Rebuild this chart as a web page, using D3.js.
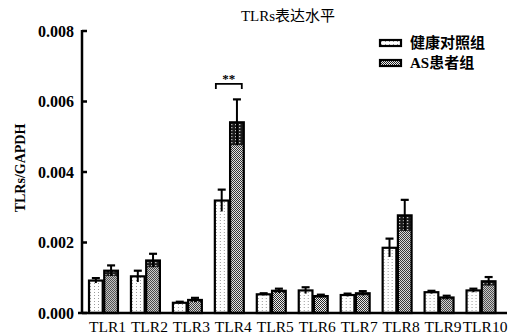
<!DOCTYPE html>
<meta charset="utf-8">
<head>
  <title>TLRs表达水平</title>
  <script src="https://cdn.jsdelivr.net/npm/d3@7"></script>
  <style>
    body { margin: 0; background: #fff; }
    svg { display: block; }
    .tick-y { font-family: "Liberation Serif", serif; font-weight: bold; font-size: 16px; }
    .tick-x { font-family: "Liberation Serif", serif; font-size: 15.5px; }
  </style>
</head>
<body>
<svg></svg>
<script>
// data
var categories = ["TLR1", "TLR2", "TLR3", "TLR4", "TLR5", "TLR6", "TLR7", "TLR8", "TLR9", "TLR10"];
var groups = ["健康对照组", "AS患者组"];
var controlMean = [0.00092, 0.00104, 0.00029, 0.00319, 0.00053, 0.00064, 0.00051, 0.00185, 0.00059, 0.00064];
var controlSD   = [0.00007, 0.00016, 0.00003, 0.00031, 0.00003, 0.00009, 0.00004, 0.00026, 0.00004, 0.00005];
var asMean      = [0.00120, 0.00149, 0.00037, 0.00541, 0.00063, 0.00048, 0.00056, 0.00277, 0.00044, 0.00090];
var asSD        = [0.00015, 0.00019, 0.00006, 0.00065, 0.00006, 0.00004, 0.00006, 0.00044, 0.00005, 0.00012];
var yTicks = [0, 0.002, 0.004, 0.006, 0.008];

var W = 515, H = 336;
var svg = d3.select("svg").attr("width", W).attr("height", H);

var x = d3.scaleBand().domain(categories).range([82.5, 502]).paddingInner(0.31).paddingOuter(0.155);
var xs = d3.scaleBand().domain(groups).range([0, x.bandwidth()]).paddingInner(0.1);
var y = d3.scaleLinear().domain([0, 0.008]).range([313, 31]);

// patterns
var defs = svg.append("defs");
var p1 = defs.append("pattern").attr("id", "pCtl").attr("patternUnits", "userSpaceOnUse")
  .attr("width", 4).attr("height", 3);
p1.append("rect").attr("width", 4).attr("height", 3).attr("fill", "#fff");
p1.append("rect").attr("x", 1).attr("y", 1).attr("width", 1).attr("height", 1).attr("fill", "#999");
var p2 = defs.append("pattern").attr("id", "pAS").attr("patternUnits", "userSpaceOnUse")
  .attr("width", 2).attr("height", 2);
p2.append("rect").attr("width", 2).attr("height", 2).attr("fill", "#f4f4f4");
p2.append("rect").attr("width", 1).attr("height", 1).attr("fill", "#222");
p2.append("rect").attr("x", 1).attr("y", 1).attr("width", 1).attr("height", 1).attr("fill", "#222");
var p3 = defs.append("pattern").attr("id", "pDark").attr("patternUnits", "userSpaceOnUse")
  .attr("width", 4).attr("height", 3);
p3.append("rect").attr("width", 4).attr("height", 3).attr("fill", "#1a1a1a");
p3.append("rect").attr("x", 1).attr("y", 1).attr("width", 1.3).attr("height", 1.2).attr("fill", "#ddd");

var rows = categories.map(function(c, i) {
  return [
    {cat: c, g: groups[0], m: controlMean[i], sd: controlSD[i], fill: "url(#pCtl)"},
    {cat: c, g: groups[1], m: asMean[i], sd: asSD[i], fill: "url(#pAS)"}
  ];
});
var bars = [].concat.apply([], rows);

var gb = svg.append("g").selectAll("g").data(bars).enter().append("g")
  .attr("transform", function(d) { return "translate(" + (x(d.cat) + xs(d.g)) + ",0)"; });
var bw = xs.bandwidth();

gb.append("rect")
  .attr("x", 0).attr("width", bw)
  .attr("y", function(d) { return y(d.m); })
  .attr("height", function(d) { return y(0) - y(d.m); })
  .attr("fill", function(d) { return d.fill; });

// darker band for the lower whisker inside the AS bars
gb.filter(function(d) { return d.g === groups[1]; }).append("rect")
  .attr("x", 0).attr("width", bw)
  .attr("y", function(d) { return y(d.m); })
  .attr("height", function(d) { return y(d.m - d.sd) - y(d.m); })
  .attr("fill", "url(#pDark)");

gb.append("line")
  .attr("x1", bw / 2).attr("x2", bw / 2)
  .attr("y1", function(d) { return y(d.m - d.sd); })
  .attr("y2", function(d) { return y(d.m + d.sd); })
  .attr("stroke", "#000").attr("stroke-width", 2);
gb.append("line")
  .attr("x1", bw / 2 - 4).attr("x2", bw / 2 + 4)
  .attr("y1", function(d) { return y(d.m + d.sd); })
  .attr("y2", function(d) { return y(d.m + d.sd); })
  .attr("stroke", "#000").attr("stroke-width", 2.2);

gb.append("rect")
  .attr("x", 0).attr("width", bw)
  .attr("y", function(d) { return y(d.m); })
  .attr("height", function(d) { return y(0) - y(d.m); })
  .attr("fill", "none").attr("stroke", "#000").attr("stroke-width", 2.2);

// axes
var ax = svg.append("g");
ax.append("line").attr("x1", 82).attr("x2", 82).attr("y1", y(0.008) - 1).attr("y2", y(0))
  .attr("stroke", "#000").attr("stroke-width", 2.5);
ax.append("line").attr("x1", 78).attr("x2", 507).attr("y1", y(0)).attr("y2", y(0))
  .attr("stroke", "#000").attr("stroke-width", 2.5);
ax.selectAll(".yt").data(yTicks).enter().append("line")
  .attr("x1", 82).attr("x2", 87)
  .attr("y1", function(d) { return y(d); }).attr("y2", function(d) { return y(d); })
  .attr("stroke", "#000").attr("stroke-width", 2.5);
ax.selectAll(".ytl").data(yTicks).enter().append("text")
  .attr("class", "tick-y")
  .attr("x", 74).attr("y", function(d) { return y(d); }).attr("dy", "0.35em")
  .attr("text-anchor", "end")
  .text(function(d) { return d3.format(".3f")(d); });
ax.selectAll(".xtl").data(categories).enter().append("text")
  .attr("class", "tick-x")
  .attr("x", function(d) { return x(d) + x.bandwidth() / 2 + 4; }).attr("y", 332)
  .attr("text-anchor", "middle")
  .text(function(d) { return d; });

svg.append("text")
  .attr("transform", "translate(25,168) rotate(-90)")
  .attr("text-anchor", "middle")
  .style("font-family", "Liberation Serif, serif").style("font-weight", "bold").style("font-size", "14px")
  .text("TLRs/GAPDH");

svg.append("text")
  .attr("x", 288).attr("y", 21).attr("text-anchor", "middle")
  .style("font-family", "Liberation Serif, Noto Sans CJK SC, serif").style("font-size", "15px")
  .text("TLRs表达水平");

// significance bracket on TLR4
var bx1 = x("TLR4") + xs(groups[0]) + 1, bx2 = x("TLR4") + xs(groups[1]) + bw - 2;
var by = y(0.0065);
svg.append("path")
  .attr("d", "M" + bx1 + "," + (by + 5) + "V" + by + "H" + bx2 + "V" + (by + 5))
  .attr("fill", "none").attr("stroke", "#000").attr("stroke-width", 1.8);
svg.append("text")
  .attr("x", (bx1 + bx2) / 2).attr("y", by - 1).attr("text-anchor", "middle")
  .style("font-family", "Liberation Serif, serif").style("font-weight", "bold").style("font-size", "13px")
  .text("**");

// legend
var lg = svg.append("g").selectAll("g").data(groups).enter().append("g")
  .attr("transform", function(d, i) { return "translate(380," + (40 + i * 20) + ")"; });
lg.append("rect").attr("width", 21).attr("height", 6)
  .attr("fill", function(d, i) { return i === 0 ? "url(#pCtl)" : "url(#pAS)"; })
  .attr("stroke", "#000").attr("stroke-width", 2.2);
lg.append("text").attr("x", 30).attr("y", 8)
  .style("font-family", "Liberation Serif, Noto Sans CJK SC, serif").style("font-weight", "bold").style("font-size", "15px")
  .text(function(d) { return d; });
</script>
</body>
